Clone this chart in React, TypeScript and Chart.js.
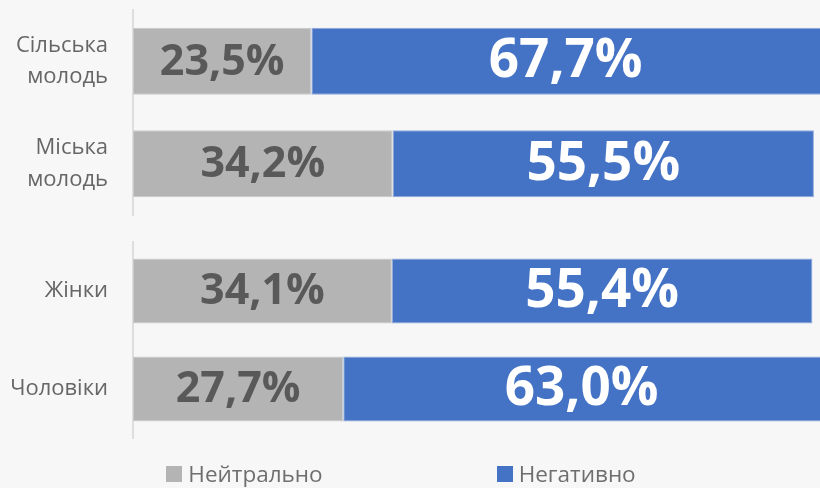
import React, { useEffect, useRef } from "react";
import { Chart, registerables } from "chart.js";

Chart.register(...registerables);

const groupOneCategories = [["Сільська", "молодь"], ["Міська", "молодь"]];
const groupTwoCategories = ["Жінки", "Чоловіки"];
const seriesNames = ["Нейтрально", "Негативно"];
const neutralGroupOne = [23.5, 34.2];
const negativeGroupOne = [67.7, 55.5];
const neutralGroupTwo = [34.1, 27.7];
const negativeGroupTwo = [55.4, 63.0];
const xMax = 90.5;

const GRAY = "#b4b4b4";
const BLUE = "#4472c4";
const BG = "#f7f7f7";
const FONT = "'Open Sans', 'Noto Sans', sans-serif";

const labelPlugin = {
  id: "barLabels",
  afterDatasetsDraw(chart: any) {
    const ctx = chart.ctx;
    const area = chart.chartArea;
    ctx.save();
    ctx.beginPath();
    ctx.rect(area.left, area.top, area.right - area.left, area.bottom - area.top);
    ctx.clip();
    chart.data.datasets.forEach((ds: any, di: number) => {
      const meta = chart.getDatasetMeta(di);
      meta.data.forEach((el: any, i: number) => {
        const { x, base, y } = el.getProps(["x", "base", "y"], true);
        const right = Math.min(x, area.right);
        const cx = (base + right) / 2;
        const v = ds.data[i];
        const txt = v.toFixed(1).replace(".", ",") + "%";
        ctx.font = di === 0 ? `bold 43px ${FONT}` : `bold 53px ${FONT}`;
        ctx.fillStyle = di === 0 ? "#595959" : "#ffffff";
        ctx.textAlign = "center";
        ctx.textBaseline = "middle";
        ctx.fillText(txt, cx, y + 1);
      });
    });
    ctx.restore();
  },
};

function makeConfig(labels: any[], neutral: number[], negative: number[], padTop: number, padBottom: number, barPct: number) {
  return {
    type: "bar" as const,
    data: {
      labels,
      datasets: [
        {
          label: seriesNames[0],
          data: neutral,
          backgroundColor: GRAY,
          borderColor: "#c9c9c9",
          borderWidth: 1,
          borderSkipped: false,
          barPercentage: barPct,
          categoryPercentage: 1,
        },
        {
          label: seriesNames[1],
          data: negative,
          backgroundColor: BLUE,
          borderColor: "#8faadc",
          borderWidth: 1,
          borderSkipped: false,
          barPercentage: barPct,
          categoryPercentage: 1,
        },
      ],
    },
    options: {
      indexAxis: "y" as const,
      animation: false as const,
      responsive: false,
      maintainAspectRatio: false,
      layout: { padding: { top: padTop, bottom: padBottom, left: 0, right: 0 } },
      plugins: { legend: { display: false }, tooltip: { enabled: false } },
      scales: {
        x: { stacked: true, min: 0, max: xMax, display: false },
        y: {
          stacked: true,
          afterFit(scale: any) {
            scale.width = 133;
            scale.paddingTop = 0;
            scale.paddingBottom = 0;
          },
          grid: { display: false, drawTicks: false },
          border: { display: true, color: "#dedede", width: 2 },
          ticks: {
            padding: 25,
            color: "#666666",
            font: { family: FONT, size: 22, lineHeight: 1.42 },
          },
        },
      },
    },
    plugins: [labelPlugin],
  };
}

export default function App() {
  const ref1 = useRef<HTMLCanvasElement>(null);
  const ref2 = useRef<HTMLCanvasElement>(null);

  useEffect(() => {
    document.body.style.margin = "0";
    document.body.style.background = BG;
    const c1 = new Chart(ref1.current as HTMLCanvasElement, makeConfig(groupOneCategories, neutralGroupOne, negativeGroupOne, 10, 10, 0.655) as any);
    const c2 = new Chart(ref2.current as HTMLCanvasElement, makeConfig(groupTwoCategories, neutralGroupTwo, negativeGroupTwo, 17, 50, 0.665) as any);
    return () => {
      c1.destroy();
      c2.destroy();
    };
  }, []);

  const legendItem = (name: string, color: string) => (
    <div style={{ display: "flex", alignItems: "center" }}>
      <span style={{ display: "inline-block", width: 16, height: 16, background: color, marginRight: 6 }} />
      <span style={{ fontFamily: FONT, fontSize: 22.5, color: "#6e6e6e", lineHeight: "28px" }}>{name}</span>
    </div>
  );

  return (
    <div style={{ position: "relative", width: 820, height: 488, background: BG, overflow: "hidden" }}>
      <canvas ref={ref1} width={820} height={225} style={{ position: "absolute", left: 0, top: 0 }} />
      <canvas ref={ref2} width={820} height={263} style={{ position: "absolute", left: 0, top: 225 }} />
      <div
        style={{
          position: "absolute",
          left: 0,
          top: 460,
          width: 802,
          display: "flex",
          justifyContent: "center",
          gap: 174,
        }}
      >
        {legendItem(seriesNames[0], GRAY)}
        {legendItem(seriesNames[1], BLUE)}
      </div>
    </div>
  );
}
